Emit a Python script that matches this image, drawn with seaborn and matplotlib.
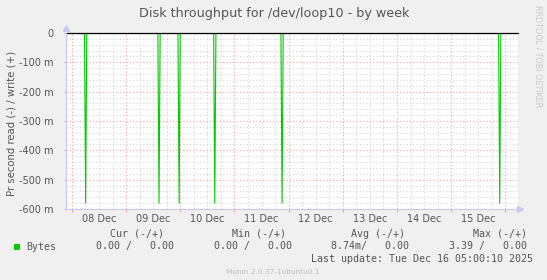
import matplotlib
matplotlib.use("Agg")
import matplotlib.pyplot as plt
import seaborn as sns
import pandas as pd
from matplotlib.lines import Line2D
from matplotlib.patches import Rectangle

sns.set_theme(style="white")
plt.rcParams['font.family'] = ['DejaVu Sans']

# ---- data (hours since 08 Dec 00:00) ----
read_hours = [-2.5, 5.6, 6.1, 6.6, 38.1, 38.6, 39.1, 47.0, 47.5, 48.0,
              62.8, 63.3, 63.8, 92.6, 93.1, 93.6, 189.0, 189.5, 190.0, 197.0]
read_vals = [0, 0, -0.58, 0, 0, -0.58, 0, 0, -0.58, 0,
             0, -0.58, 0, 0, -0.58, 0, 0, -0.58, 0, 0]
write_hours = [-2.5, 197.0]
write_vals = [0, 0]

day_labels = ["08 Dec", "09 Dec", "10 Dec", "11 Dec", "12 Dec", "13 Dec", "14 Dec", "15 Dec"]
y_ticks = [0, -0.1, -0.2, -0.3, -0.4, -0.5, -0.6]
y_labels = ["0", "-100 m", "-200 m", "-300 m", "-400 m", "-500 m", "-600 m"]

title = "Disk throughput for /dev/loop10 - by week"
ylabel = "Pr second read (-) / write (+)"
legend_name = "Bytes"
cur_vals = "0.00 /   0.00"
min_vals = "0.00 /   0.00"
avg_vals = "8.74m/   0.00"
max_vals = "3.39 /   0.00"
last_update = "Last update: Tue Dec 16 05:00:10 2025"
version = "Munin 2.0.37-1ubuntu0.1"

W, H = 547, 280
GREEN = "#00CC00"
TXT = "#555555"
AXC = "#C8C8F4"
MAJ = "#F2A0A0"
MIN = "#D4D4D4"
XMIN, XMAX = -2.6, 197.6

def fx(x):
    return x / W

def fy(y):
    return 1 - y / H

fig = plt.figure(figsize=(W / 100, H / 100), dpi=100, facecolor="#F0F0F0")
ax = fig.add_axes([fx(66), fy(209), (518 - 66) / W, (209 - 33) / H])
ax.set_facecolor("white")

read_df = pd.DataFrame({"hour": read_hours, "value": read_vals})
write_df = pd.DataFrame({"hour": write_hours, "value": write_vals})
sns.lineplot(data=read_df, x="hour", y="value", ax=ax, color=GREEN, lw=0.8, zorder=3)
sns.lineplot(data=write_df, x="hour", y="value", ax=ax, color=GREEN, lw=0.8, zorder=3)
ax.axhline(0, color="black", lw=0.9, zorder=4, clip_on=False)

# x ticks: midnight majors (red grid), 6-hour minors (gray grid) with day labels at noon
n_days = len(day_labels)
major_x = [24 * d for d in range(n_days + 1)]
minor_x = []
minor_lbl = []
for d in range(n_days + 1):
    for h in (6, 12, 18):
        t = 24 * d + h
        if t < XMAX:
            minor_x.append(t)
            minor_lbl.append(day_labels[d] if (h == 12 and d < n_days) else "")
ax.set_xticks(major_x)
ax.set_xticklabels([""] * len(major_x))
ax.set_xticks(minor_x, minor=True)
ax.set_xticklabels(minor_lbl, minor=True)

ax.set_yticks(y_ticks)
ax.set_yticklabels(y_labels)
ax.set_yticks([v / 100 for v in range(-58, 0, 2) if v % 10 != 0], minor=True)

ax.set_xlim(XMIN, XMAX)
ax.set_ylim(-0.6, 0)

ax.grid(True, which="major", color=MAJ, linestyle=(0, (1, 2)), lw=0.8)
ax.grid(True, which="minor", color=MIN, linestyle=(0, (1, 2)), lw=0.8)
ax.set_axisbelow(True)

ax.tick_params(axis="x", which="major", length=1.8, color=MAJ, width=0.8, pad=0)
ax.tick_params(axis="x", which="minor", length=0, pad=3.5, labelsize=7, labelcolor=TXT)
ax.tick_params(axis="y", which="major", length=1.5, color=MAJ, width=0.8, pad=7.5,
               labelsize=7, labelcolor=TXT)
ax.tick_params(axis="y", which="minor", length=0)
ax.tick_params(axis="both", which="both", bottom=True, left=True)

for s in ax.spines.values():
    s.set_visible(False)
ax.set_xlabel("")
ax.set_ylabel("")

# axis lines with arrows
fig.add_artist(Line2D([fx(66), fx(519)], [fy(209), fy(209)], color=AXC, lw=0.8))
fig.add_artist(Line2D([fx(66), fx(66)], [fy(209), fy(29)], color=AXC, lw=0.8))
fig.add_artist(Line2D([fx(520)], [fy(209)], marker=">", color=AXC, markersize=4, lw=0))
fig.add_artist(Line2D([fx(66)], [fy(28)], marker="^", color=AXC, markersize=4, lw=0))

# texts
fig.text(fx(274), fy(13), title, ha="center", va="center", fontsize=9.2, color=TXT)
fig.text(fx(12), fy(123), ylabel, ha="center", va="center", rotation=90, fontsize=7.3, color=TXT)
fig.text(fx(538), fy(5), "RRDTOOL / TOBI OETIKER", ha="center", va="top", rotation=270,
         fontsize=5.8, color="#C8C8C8")

mono = dict(family="DejaVu Sans Mono", fontsize=7.2, color=TXT, va="center")
fig.text(fx(164), fy(234), "Cur (-/+)", ha="right", **mono)
fig.text(fx(285.5), fy(234), "Min (-/+)", ha="right", **mono)
fig.text(fx(405), fy(234), "Avg (-/+)", ha="right", **mono)
fig.text(fx(527), fy(234), "Max (-/+)", ha="right", **mono)

fig.add_artist(Rectangle((fx(14), fy(249.5)), 6 / W, 6 / H, facecolor=GREEN, edgecolor="none"))
fig.text(fx(26), fy(246.5), legend_name, ha="left", **mono)
fig.text(fx(173.5), fy(246.5), cur_vals, ha="right", **mono)
fig.text(fx(291.5), fy(246.5), min_vals, ha="right", **mono)
fig.text(fx(409), fy(246.5), avg_vals, ha="right", **mono)
fig.text(fx(527), fy(246.5), max_vals, ha="right", **mono)
fig.text(fx(533), fy(259.5), last_update, ha="right", **mono)

fig.text(fx(273), fy(272.5), version, ha="center", va="center", fontsize=5.3, color="#BDBDBD")

fig.savefig("out.png", dpi=100, facecolor=fig.get_facecolor())
